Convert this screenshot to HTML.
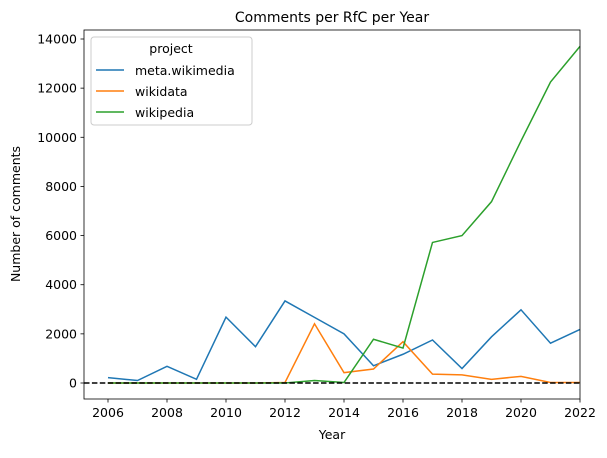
<!DOCTYPE html>
<html><head><meta charset="utf-8"><style>
body{margin:0;background:#fff;}
svg text{font-family:"DejaVu Sans","Liberation Sans",sans-serif;fill:#000;}
</style></head><body>
<svg id="chart" width="607" height="453" xmlns="http://www.w3.org/2000/svg"></svg>
<script>
const years=[2006,2007,2008,2009,2010,2011,2012,2013,2014,2015,2016,2017,2018,2019,2020,2021,2022];
const metaVals=[220,100,680,150,2680,1480,3340,2670,2000,700,1170,1750,590,1880,2980,1620,2180];
const wikidataVals=[0,0,0,0,0,0,20,2410,420,570,1680,360,330,150,270,20,20];
const wikipediaVals=[0,0,0,0,0,0,0,100,20,1780,1420,5720,6000,7380,9850,12250,13700];
const xTicks=[2006,2008,2010,2012,2014,2016,2018,2020,2022];
const yTicks=[0,2000,4000,6000,8000,10000,12000,14000];
const seriesNames=["meta.wikimedia","wikidata","wikipedia"];
const colors=["#1f77b4","#ff7f0e","#2ca02c"];

const L=84,R=580,T=30,B=399;
const xs=y=>108+(y-2006)*(580-108)/16;
const ys=v=>383-v*(383-39)/14000;
const svg=document.getElementById('chart');
const NS='http://www.w3.org/2000/svg';
function mk(tag,attrs,parent){const e=document.createElementNS(NS,tag);for(const k in attrs)e.setAttribute(k,attrs[k]);(parent||svg).appendChild(e);return e;}

mk('rect',{x:L,y:T,width:R-L,height:B-T,fill:'#fff'});
const series=[metaVals,wikidataVals,wikipediaVals];
series.forEach((vals,i)=>{
  const p=mk('polyline',{points:vals.map((v,j)=>xs(years[j])+','+ys(v)).join(' '),fill:'none',stroke:colors[i],'stroke-width':1.5});
  
  
});
const z=mk('line',{x1:L,x2:R,y1:ys(0),y2:ys(0),stroke:'#000','stroke-width':1.5,'stroke-dasharray':'5.5,2.4'});


const frame=mk('rect',{x:L,y:T,width:R-L,height:B-T,fill:'none',stroke:'#000','stroke-width':0.8});



xTicks.forEach(t=>{
  mk('line',{x1:xs(t),x2:xs(t),y1:B,y2:B+3.5,stroke:'#000','stroke-width':0.8});
  const tx=mk('text',{x:xs(t),y:B+18,'text-anchor':'middle','font-size':12.5});
  tx.textContent=t;
  
  
});
yTicks.forEach(t=>{
  mk('line',{x1:L-3.5,x2:L,y1:ys(t),y2:ys(t),stroke:'#000','stroke-width':0.8});
  const tx=mk('text',{x:L-7,y:ys(t)+4.5,'text-anchor':'end','font-size':12.5});
  tx.textContent=t;
  
  
});
</script>
<svg style="position:absolute;left:0;top:0" width="607" height="453" xmlns="http://www.w3.org/2000/svg">
<text x="332" y="22" text-anchor="middle" font-size="14">Comments per RfC per Year</text>
<text x="332" y="439" text-anchor="middle" font-size="12.5">Year</text>
<text transform="translate(20,214) rotate(-90)" text-anchor="middle" font-size="12.5">Number of comments</text>
<g>
<rect x="91" y="37" width="161" height="88" rx="3" fill="#fff" fill-opacity="0.8" stroke="#ccc"/>
<text x="171" y="53" text-anchor="middle" font-size="12.5">project</text>
<line x1="96" x2="124" y1="70" y2="70" stroke="#1f77b4" stroke-width="1.5"/>
<text x="135" y="75" font-size="12.5">meta.wikimedia</text>
<line x1="96" x2="124" y1="91" y2="91" stroke="#ff7f0e" stroke-width="1.5"/>
<text x="135" y="96" font-size="12.5">wikidata</text>
<line x1="96" x2="124" y1="112" y2="112" stroke="#2ca02c" stroke-width="1.5"/>
<text x="135" y="117" font-size="12.5">wikipedia</text>
</g>
</svg>
</body></html>
